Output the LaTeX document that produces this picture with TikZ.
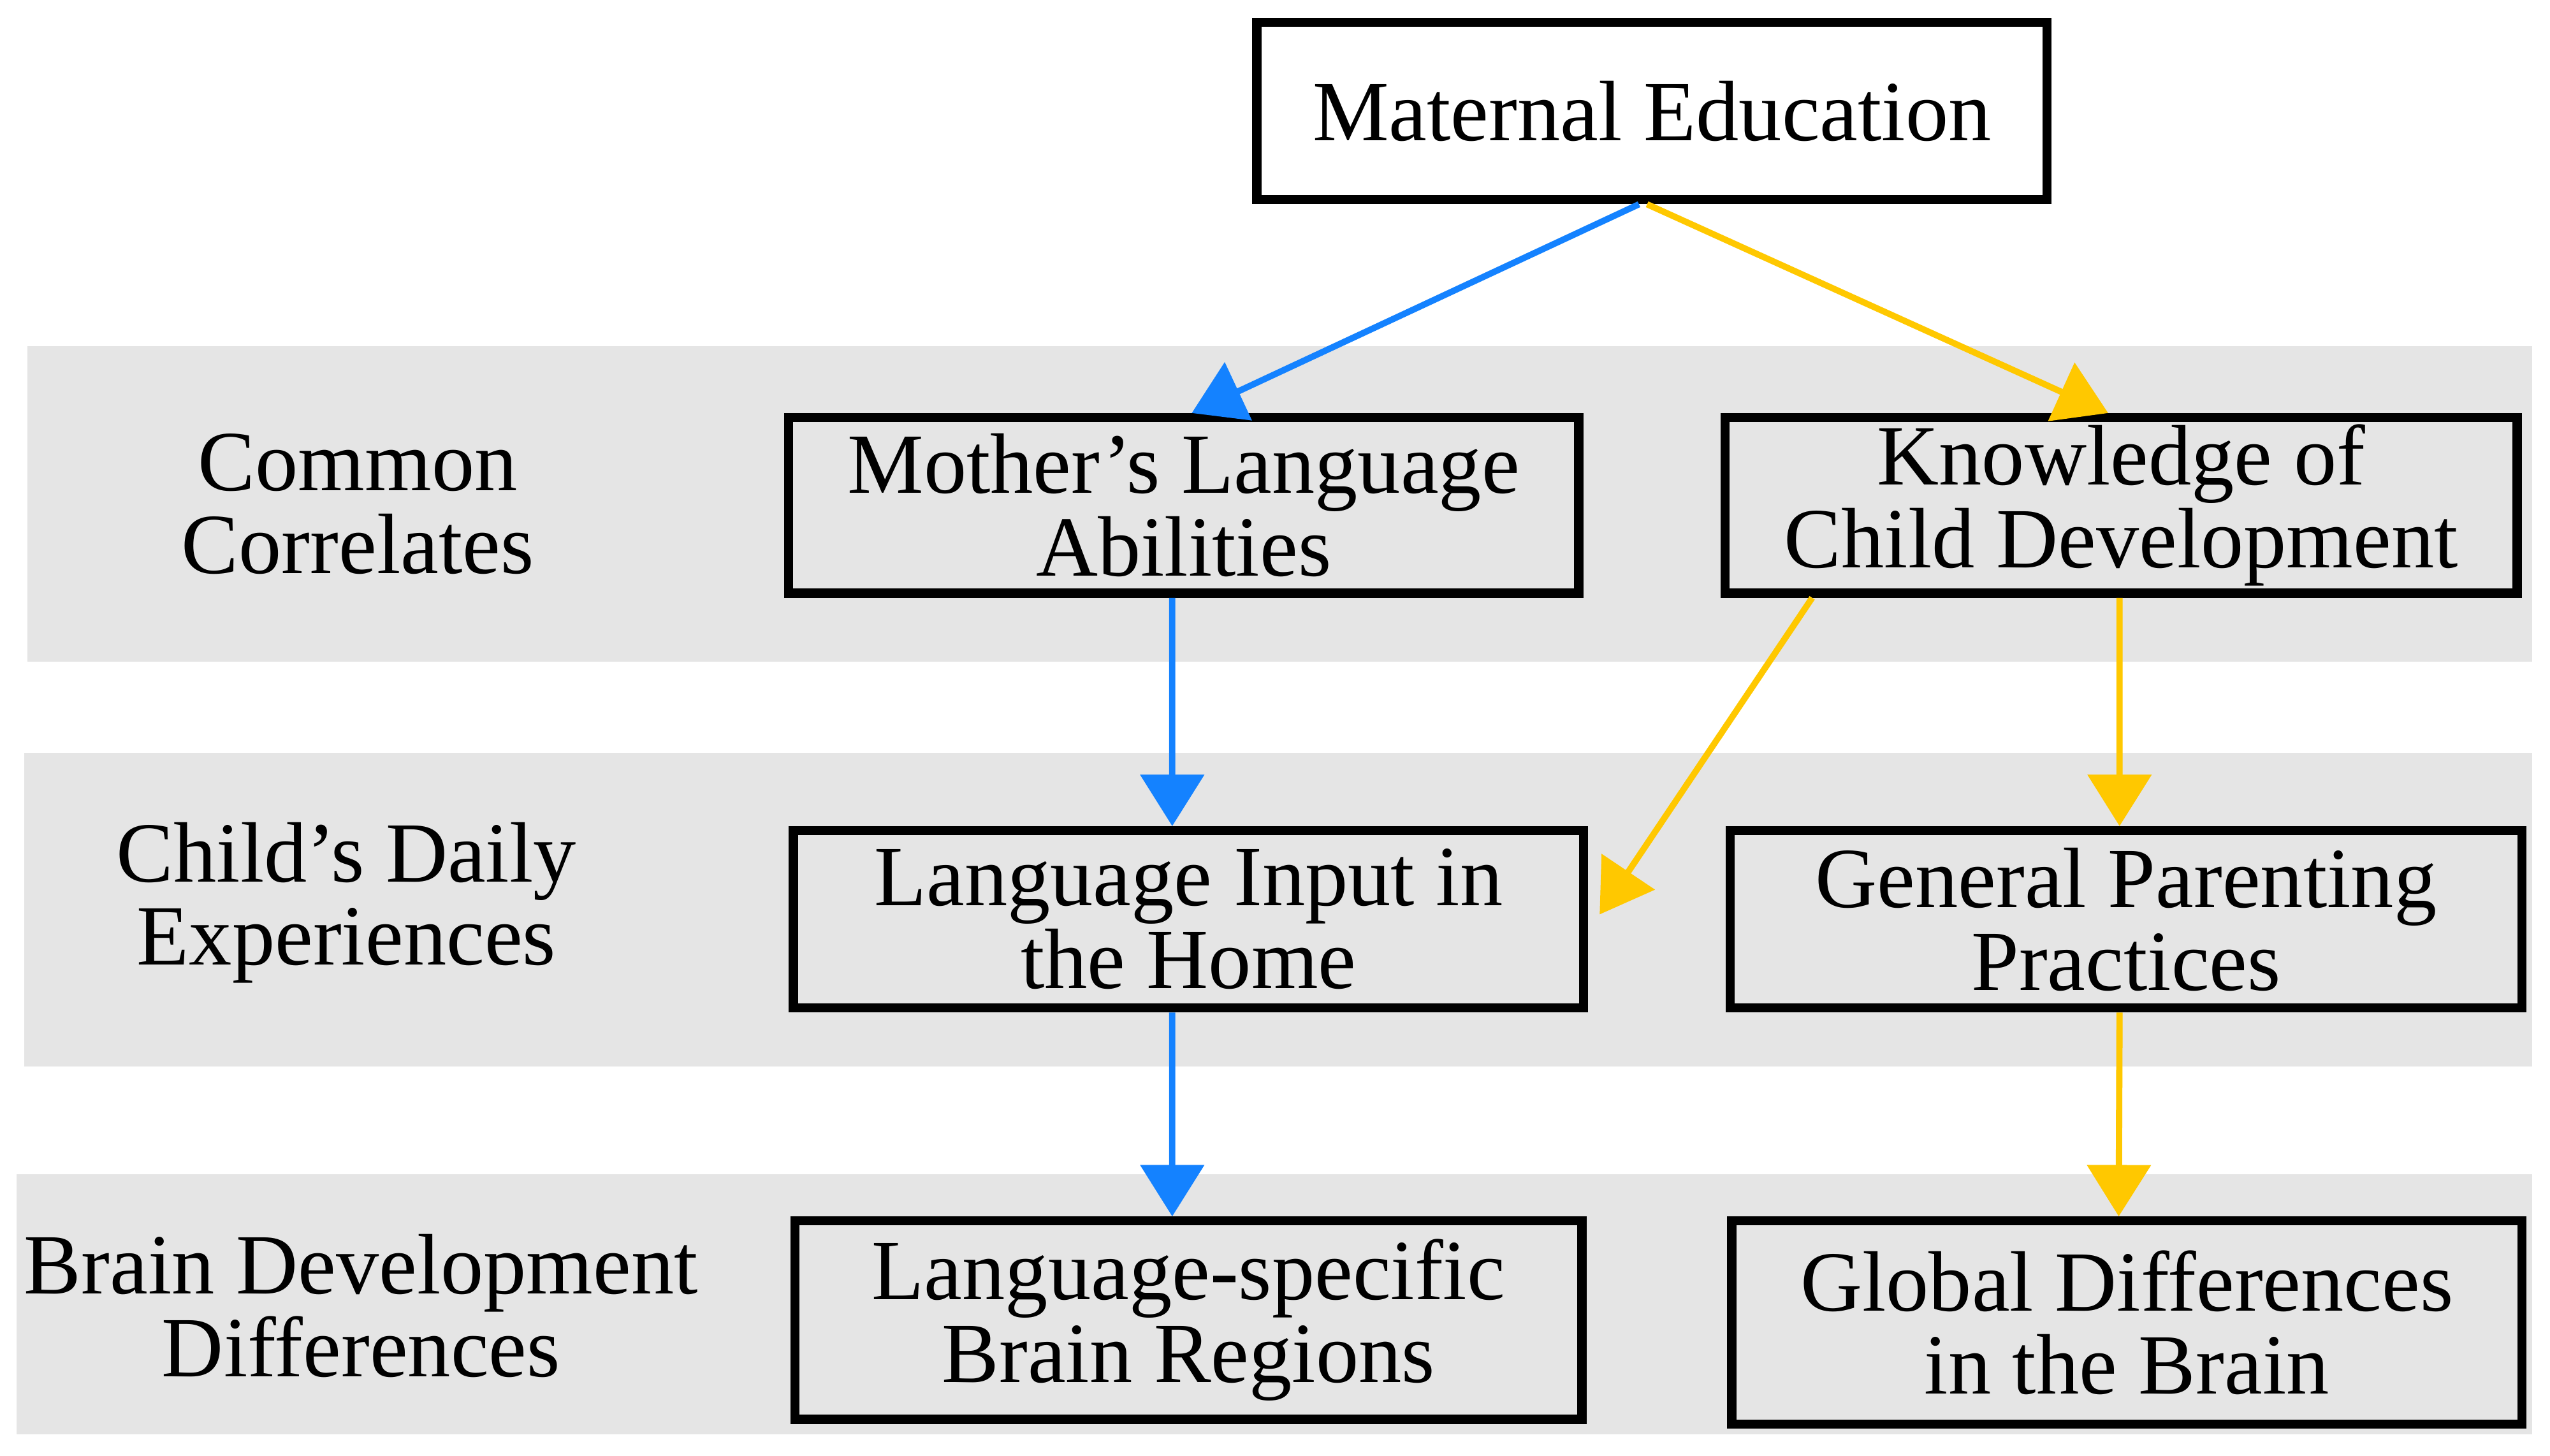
\documentclass[tikz,border=0pt]{standalone}
\usepackage{fontspec}
\setmainfont{Liberation Serif}
\usetikzlibrary{arrows.meta}
\newcommand{\apos}{\symbol{39}}
\begin{document}
\begin{tikzpicture}[x=0.1mm,y=-0.1mm,
 box/.style={draw,line width=1.6pt,inner sep=0pt,align=center,font=\fontsize{15}{14.5}\selectfont},
 lbl/.style={align=center,font=\fontsize{15}{14.5}\selectfont},
 band/.style={fill=black!10,draw=none},
 arr/.style={line width=1.1pt,-{Triangle[width=11pt,length=9pt]}},
 bl/.style={arr,draw={rgb,255:red,20;green,130;blue,255}},
 yl/.style={arr,draw={rgb,255:red,255;green,200;blue,0}}]
\useasboundingbox (0,0) rectangle (1568,895);
\fill[band] (17,213) rectangle (1557,407);
\fill[band] (15,463) rectangle (1557,656);
\fill[band] (10,722) rectangle (1557,882);
\node[box,anchor=north west,minimum width=48.6mm,minimum height=10.9mm] (me) at (770,11) {Maternal Education};
\node[box,anchor=north west,minimum width=48.6mm,minimum height=10.8mm] (ml) at (482,254) {Mother\apos s Language\\Abilities};
\node[box,anchor=north west,minimum width=48.7mm,minimum height=10.8mm] (kc) at (1058,254) {Knowledge of\\Child Development};
\node[box,anchor=north west,minimum width=48.6mm,minimum height=10.9mm] (li) at (485,508) {Language Input in\\the Home};
\node[box,anchor=north west,minimum width=48.7mm,minimum height=10.9mm] (gp) at (1061,508) {General Parenting\\Practices};
\node[box,anchor=north west,minimum width=48.4mm,minimum height=12.2mm] (ls) at (486,748) {Language-specific\\Brain Regions};
\node[box,anchor=north west,minimum width=48.6mm,minimum height=12.5mm] (gd) at (1062,748) {Global Differences\\in the Brain};
\node[lbl] (c1) at (220,310) {Common\\Correlates};
\node[lbl] (c2) at (213,555) {Child\apos s Daily\\Experiences};
\node[lbl] (c3) at (222,803) {Brain Development\\Differences};
\draw[bl] ([xshift=-0.8mm]me.south) -- ([xshift=0.5mm]ml.north);
\draw[yl] ([xshift=-0.3mm]me.south) -- ([xshift=-0.8mm]kc.north);
\draw[bl] ([xshift=-0.7mm]ml.south) -- ([xshift=-1.0mm]li.north);
\draw[yl] ([xshift=-19mm]kc.south) -- ([xshift=0.7mm,yshift=0.3mm]li.east);
\draw[yl] ([xshift=-0.1mm]kc.south) -- ([xshift=-0.4mm]gp.north);
\draw[bl] ([xshift=-1.0mm]li.south) -- ([xshift=-1.0mm]ls.north);
\draw[yl] ([xshift=-0.4mm]gp.south) -- ([xshift=-0.5mm]gd.north);
\end{tikzpicture}
\end{document}
